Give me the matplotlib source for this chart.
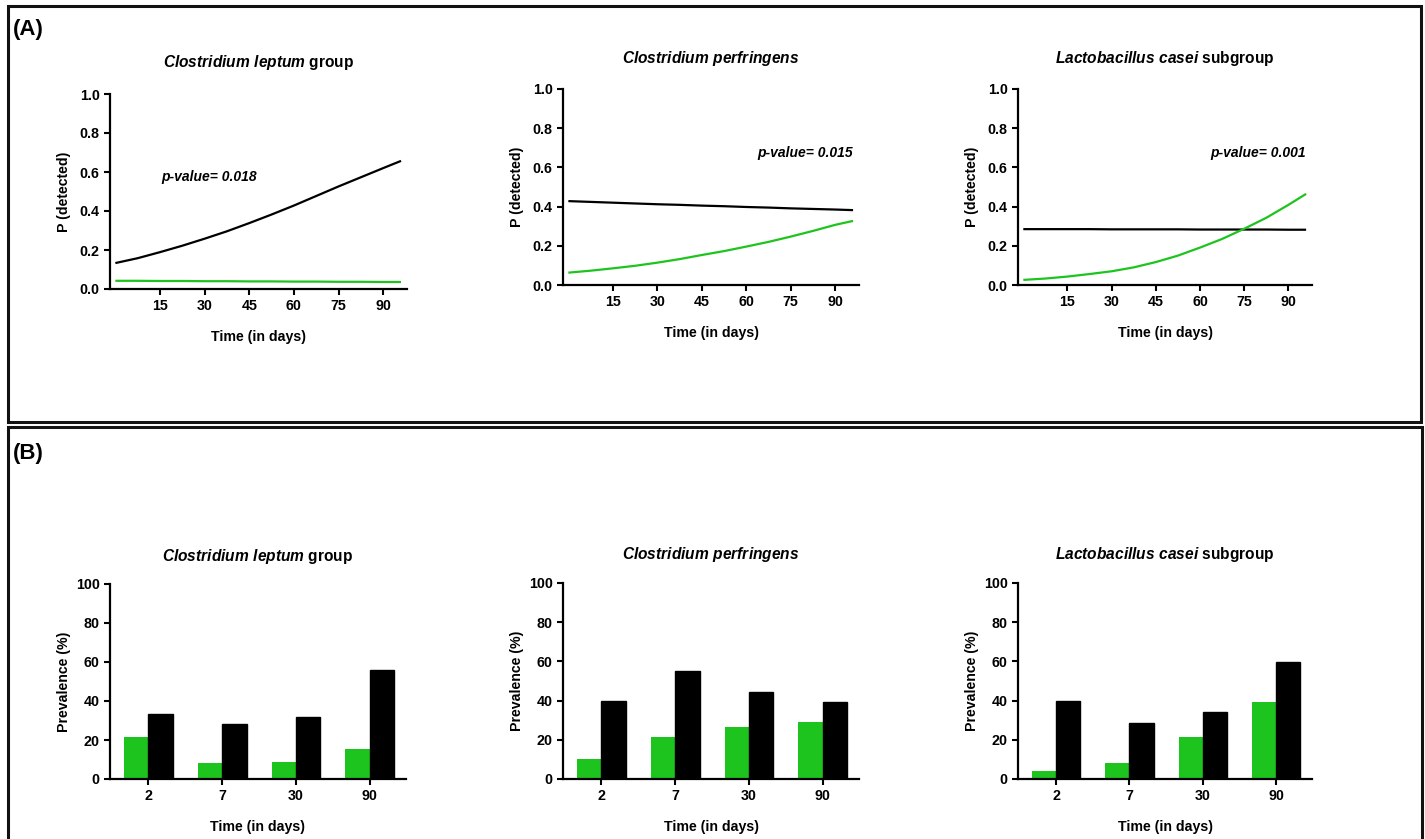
import numpy as np
import matplotlib
matplotlib.use("Agg")
import matplotlib.pyplot as plt
from matplotlib.patches import Rectangle

plt.rcParams['font.family'] = ['Liberation Sans', 'DejaVu Sans']
plt.rcParams['font.weight'] = 'bold'
plt.rcParams['mathtext.fontset'] = 'custom'
plt.rcParams['mathtext.it'] = 'Liberation Sans:italic:bold'
plt.rcParams['mathtext.rm'] = 'Liberation Sans:bold'

GREEN = '#1ec41e'
W, H = 1425, 839

# --- panel (A): fitted probability curves ---
titles = [r"$\mathit{Clostridium\ leptum}$ group",
          r"$\mathit{Clostridium\ perfringens}$",
          r"$\mathit{Lactobacillus\ casei}$ subgroup"]
pvalues = ["p-value= 0.018", "p-value= 0.015", "p-value= 0.001"]

# curves every 7.5 days (last point = end of the fit)
days = [0, 7.5, 15, 22.5, 30, 37.5, 45, 52.5, 60, 67.5, 75, 82.5, 90, 96]
leptum_black = [0.133, 0.158, 0.189, 0.222, 0.258, 0.296, 0.338, 0.382,
                0.428, 0.477, 0.526, 0.573, 0.620, 0.657]
leptum_green = [0.042, 0.042, 0.041, 0.041, 0.040, 0.040, 0.039, 0.039,
                0.038, 0.038, 0.037, 0.037, 0.036, 0.036]
perf_black = [0.428, 0.424, 0.420, 0.416, 0.412, 0.409, 0.405, 0.402,
              0.398, 0.395, 0.391, 0.388, 0.385, 0.382]
perf_green = [0.063, 0.073, 0.085, 0.098, 0.114, 0.132, 0.153, 0.173,
              0.196, 0.220, 0.247, 0.276, 0.307, 0.327]
casei_black = [0.285, 0.285, 0.285, 0.285, 0.284, 0.284, 0.284, 0.284,
               0.283, 0.283, 0.283, 0.283, 0.282, 0.282]
casei_green = [0.026, 0.033, 0.043, 0.056, 0.070, 0.090, 0.117, 0.150,
               0.191, 0.235, 0.287, 0.343, 0.409, 0.465]

curves_black = [leptum_black, perf_black, casei_black]
curves_green = [leptum_green, perf_green, casei_green]

# --- panel (B): prevalence bars ---
time_cats = ["2", "7", "30", "90"]
prev_green = [[21.5, 8.2, 8.9, 15.5],
              [10.4, 21.4, 26.7, 28.9],
              [4.1, 8.2, 21.4, 39.3]]
prev_black = [[33.1, 28.4, 31.8, 56.0],
              [39.6, 55.3, 44.6, 39.1],
              [39.6, 28.4, 34.2, 59.7]]

fig = plt.figure(figsize=(W / 100, H / 100), dpi=100)
fig.patch.set_facecolor('white')


def px_axes(left, right, top, bottom):
    return fig.add_axes([left / W, 1 - bottom / H, (right - left) / W, (bottom - top) / H])


def style(ax, ylabel):
    for s in ['top', 'right']:
        ax.spines[s].set_visible(False)
    for s in ['left', 'bottom']:
        ax.spines[s].set_linewidth(1.6)
    ax.tick_params(direction='out', length=4.5, width=1.5, labelsize=10.3, pad=3)
    for lab in ax.get_xticklabels() + ax.get_yticklabels():
        lab.set_fontweight('bold')
    ax.set_xlabel("Time (in days)", fontsize=10.2, fontweight='bold')
    ax.set_ylabel(ylabel, fontsize=10.2, fontweight='bold')
    ax.xaxis.label.set_verticalalignment('center')
    ax.yaxis.label.set_verticalalignment('center')
    ax.set_facecolor('none')


a_boxes = [(110, 407, 94, 289), (563, 859, 89, 285), (1018, 1312, 89, 285)]
b_boxes = [(110, 406, 584, 779), (563, 859, 583, 779), (1018, 1312, 583, 779)]

for i in range(3):
    l, r, t, b = a_boxes[i]
    ax = px_axes(l, r, t, b)
    ax.plot(days, curves_black[i], color='black', lw=1.6, solid_capstyle='butt')
    ax.plot(days, curves_green[i], color=GREEN, lw=1.6, solid_capstyle='butt')
    ax.set_xlim(-1.8, 98)
    ax.set_ylim(0, 1.0)
    ax.set_xticks([15, 30, 45, 60, 75, 90])
    ax.set_yticks(np.arange(0, 1.01, 0.2))
    ax.set_yticklabels([f"{v:.1f}" for v in np.arange(0, 1.01, 0.2)])
    style(ax, "P (detected)")
    ax.xaxis.set_label_coords(0.5, -48 / (b - t))
    ax.yaxis.set_label_coords(-46 / (r - l), 0.5)
    ax.text(0.5, 1 + 31 / (b - t), titles[i], transform=ax.transAxes,
            ha='center', va='center', fontsize=11.2, fontweight='bold')
    if i == 0:
        ax.text(15.5, 0.574, pvalues[i], ha='left', va='center',
                fontsize=10, fontweight='bold', style='italic')
    else:
        ax.text(96, 0.675, pvalues[i], ha='right', va='center',
                fontsize=10, fontweight='bold', style='italic')

x = np.arange(len(time_cats))
bw = 0.33
for i in range(3):
    l, r, t, b = b_boxes[i]
    ax = px_axes(l, r, t, b)
    ax.bar(x - bw / 2, prev_green[i], bw, color=GREEN, edgecolor='none')
    ax.bar(x + bw / 2, prev_black[i], bw, color='black', edgecolor='black')
    ax.set_xlim(-0.52, 3.49)
    ax.set_ylim(0, 100)
    ax.set_xticks(x)
    ax.set_xticklabels(time_cats)
    ax.set_yticks([0, 20, 40, 60, 80, 100])
    style(ax, "Prevalence (%)")
    ax.xaxis.set_label_coords(0.5, -48 / (b - t))
    ax.yaxis.set_label_coords(-46 / (r - l), 0.5)
    ax.text(0.5, 1 + 28 / (b - t), titles[i], transform=ax.transAxes,
            ha='center', va='center', fontsize=11.2, fontweight='bold')

# frames round the two parts
fig.add_artist(Rectangle((8 / W, 1 - 422 / H), 1413 / W, 416 / H, transform=fig.transFigure,
                         fill=False, lw=2.2, edgecolor='#111111'))
fig.add_artist(Rectangle((8 / W, -0.05), 1414 / W, 1 - 427 / H + 0.05, transform=fig.transFigure,
                         fill=False, lw=2.2, edgecolor='#111111'))

fig.text(13 / W, 1 - 29 / H, "(A)", fontsize=16, fontweight='bold', va='center', ha='left')
fig.text(13 / W, 1 - 453 / H, "(B)", fontsize=16, fontweight='bold', va='center', ha='left')

fig.savefig("out.png", dpi=100, facecolor='white')
